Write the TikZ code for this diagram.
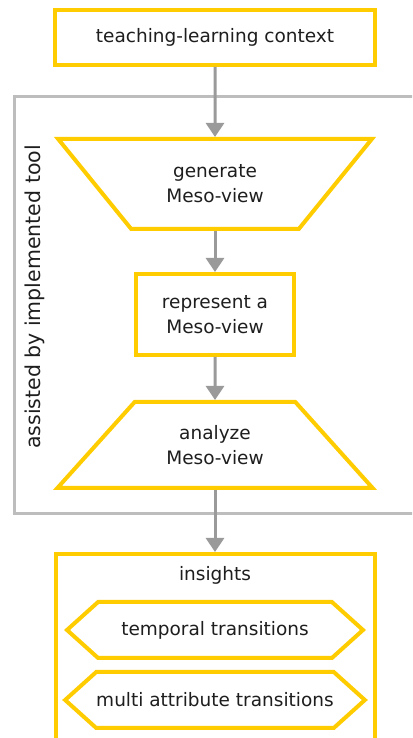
\documentclass[tikz,border=0pt]{standalone}
\usepackage{fontspec}
\setmainfont{DejaVu Sans}
\usetikzlibrary{arrows.meta,shapes.geometric,shapes.symbols}
\newcommand{\Unit}{1pt}
\newcommand{\Rim}{4pt}
\definecolor{gold}{HTML}{FFCC00}
\definecolor{frame}{HTML}{BDBDBD}
\definecolor{shaft}{HTML}{9A9A9A}
\definecolor{ink}{HTML}{1E1E1E}

\begin{document}
\begin{tikzpicture}[x=\Unit,y=\Unit, line join=miter,
  txt/.style={text=ink, align=center, font=\fontsize{18.5}{25}\selectfont},
  box/.style={txt, draw=gold, fill=white, line width=\Rim, inner sep=0pt},
  funnel/.style={box, trapezium, trapezium stretches=true},
  tag/.style={box, signal, signal to=west and east, signal pointer angle=84,
    minimum width=296, minimum height=56},
  flow/.style={draw=shaft, line width=3pt, -{Triangle[width=18pt,length=14pt]}}]

  \useasboundingbox (0,0) rectangle (412,738);
  \clip (0,0) rectangle (412,738);

  % ---- outer frame: the tool ---------------------------------------------
  \node[draw=frame, line width=3pt, minimum width=417, minimum height=417,
    anchor=north west] (tool) at (13,643) {};
  \node[txt, rotate=90, font=\fontsize{20.5}{24}\selectfont] (toollabel)
    at (35,441) {assisted by implemented tool};

  % ---- the pipeline -------------------------------------------------------
  \node[box, minimum width=320, minimum height=55] (context) at (215,700.5)
    {teaching-learning context};
  \node[funnel, shape border rotate=180, trapezium angle=42,
    minimum width=314, minimum height=90] (generate) at (215,554)
    {generate\\Meso-view};
  \node[box, minimum width=158, minimum height=81] (represent) at (215,423.5)
    {represent a\\Meso-view};
  \node[funnel, trapezium angle=40,
    minimum width=316, minimum height=86] (analyze) at (215,293)
    {analyze\\Meso-view};

  % ---- insights, running off the bottom ------------------------------------
  \node[box, minimum width=319, minimum height=210, anchor=north]
    (insights) at (215,186) {};
  \node[txt] (insightslabel) at (215,163) {insights};
  \node[tag] (temporal) at (215,108) {temporal transitions};
  \node[tag] (multi) at (215,38) {multi attribute transitions};

  % ---- arrows ---------------------------------------------------------------
  \draw[flow] (context) -- (generate);
  \draw[flow] (generate) -- (represent);
  \draw[flow] (represent) -- (analyze);
  \draw[flow] (analyze) -- (insights);

\end{tikzpicture}
\end{document}
